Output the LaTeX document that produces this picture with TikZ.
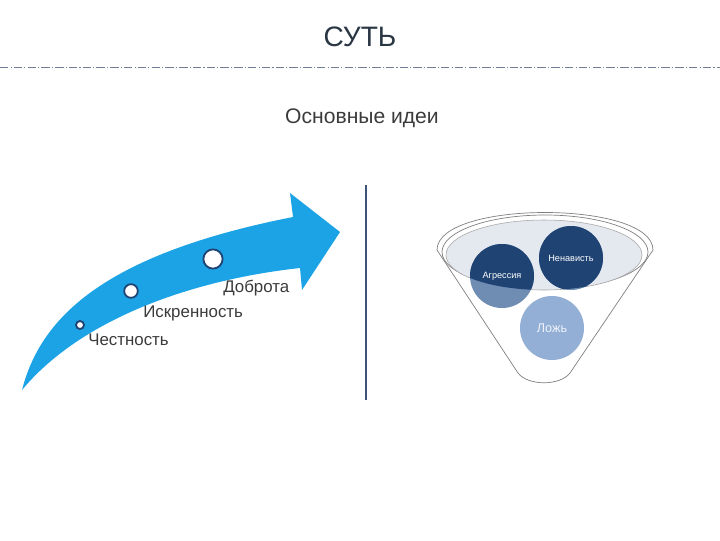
\documentclass[tikz,border=0pt]{standalone}
\usepackage{fontspec}
\setmainfont{Liberation Sans}
\definecolor{arrowblue}{HTML}{1CA3E6}
\definecolor{navy}{HTML}{1F4373}
\definecolor{paleblue}{HTML}{6F8DB3}
\definecolor{lieblue}{HTML}{93AFD6}
\definecolor{textgray}{HTML}{3B3B3B}
\definecolor{titlegray}{HTML}{2A3644}
\definecolor{rulegray}{HTML}{6F7F95}
\definecolor{rimfill}{HTML}{E4E8EF}

\begin{document}
\begin{tikzpicture}[x=0.025cm, y=-0.025cm,
	stepmark/.style={circle,draw=navy,line width=1.3pt,fill=white,inner sep=0pt},
	steptext/.style={text=textgray,font=\fontsize{12}{14}\selectfont,inner sep=0pt,anchor=west},
	ball/.style={circle,minimum size=1.6cm,inner sep=0pt},
	balltext/.style={text=white,font=\fontsize{6.5}{8}\selectfont,inner sep=0pt},
	funnelline/.style={draw=gray,line width=0.5pt}]
	\useasboundingbox (0,0) rectangle (720,540);
	\node[text=titlegray,font=\fontsize{20}{24}\selectfont] (title) at (360,37) {СУТЬ};
	\draw[rulegray,line width=0.7pt,dash pattern=on 6pt off 1.5pt on 0.8pt off 1.5pt] (0,67) -- (720,67);
	\node[text=textgray,font=\fontsize{15}{18}\selectfont] (ideas) at (362,118) {Основные идеи};
	\draw[navy!70!gray,line width=0.8pt] (366,185) -- (366,400);
	\fill[arrowblue] (22,390) .. controls (40,320) and (100,255) .. (293,217) -- (290,193) -- (340,232)
		-- (302,290) -- (300,268) .. controls (190,280) and (80,320) .. (22,390) -- cycle;
	\node[stepmark,minimum size=0.2cm] (honest) at (80,325) {};
	\node[stepmark,minimum size=0.34cm] (sincere) at (131,291) {};
	\node[stepmark,minimum size=0.48cm] (kind) at (213,259) {};
	\node[steptext] (honestlbl) at (88,340) {Честность};
	\node[steptext] (sincerelbl) at (143,313) {Искренность};
	\node[steptext] (kindlbl) at (223,288) {Доброта};
	\draw[funnelline,fill=white] (437,250) .. controls (437,200) and (653,200) .. (653,250) -- (570,373)
		.. controls (560,386) and (528,386) .. (518,373) -- cycle;
	\draw[funnelline] (545,252) ellipse [x radius=103,y radius=37];
	\draw[draw=gray!70,fill=rimfill] (544,255) ellipse [x radius=98,y radius=35];
	\node[ball,fill=lieblue] (lie) at (552,328) {};
	\node[ball,fill=paleblue] (aggr) at (502,276) {};
	\node[ball,fill=paleblue] (hate) at (571,258) {};
	\begin{scope}
		\clip (544,255) ellipse [x radius=98,y radius=35];
		\fill[navy] (aggr.center) circle (32);
		\fill[navy] (hate.center) circle (32);
	\end{scope}
	\node[balltext] (aggrlbl) at (aggr) {Агрессия};
	\node[balltext] (hatelbl) at (hate) {Ненависть};
	\node[balltext,text=white!85!lieblue,font=\fontsize{9}{11}\selectfont] (lielbl) at (lie) {Ложь};
\end{tikzpicture}
\end{document}
